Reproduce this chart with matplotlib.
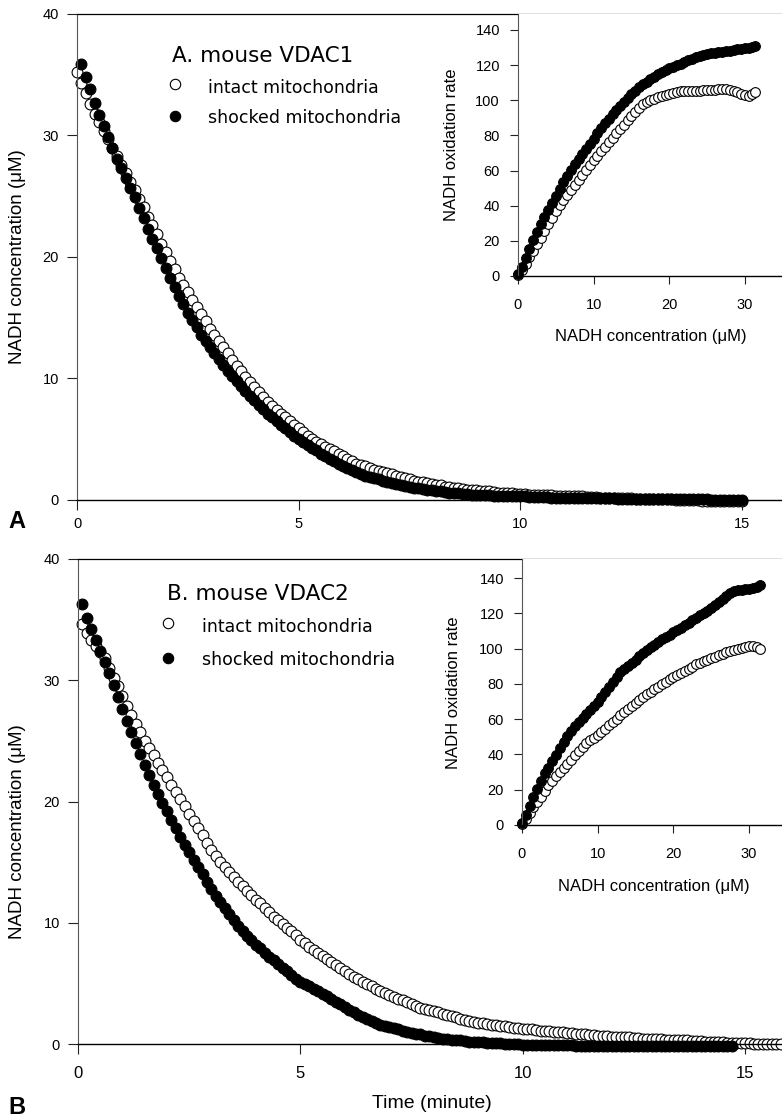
import numpy as np
import matplotlib
matplotlib.use('Agg')
import matplotlib.pyplot as plt
from matplotlib import font_manager

# ---------------- data ----------------
# Panel A main: NADH concentration (uM) vs time (min), sampled every 0.1 min
A_intact_t0 = 0.0
A_intact = [35.2, 34.3, 33.5, 32.6, 31.8, 31.1, 30.4, 29.7, 29.0, 28.3,
            27.6, 26.9, 26.2, 25.5, 24.8, 24.1, 23.3, 22.6, 21.9, 21.1,
            20.4, 19.7, 19.0, 18.3, 17.7, 17.1, 16.5, 15.9, 15.3, 14.7,
            14.1, 13.6, 13.1, 12.6, 12.1, 11.5, 11.0, 10.6, 10.1, 9.7,
            9.3, 8.9, 8.5, 8.1, 7.7, 7.4, 7.1, 6.8, 6.5, 6.2,
            5.9, 5.6, 5.3, 5.0, 4.8, 4.6, 4.4, 4.2, 4.0, 3.8,
            3.6, 3.4, 3.2, 3.0, 2.9, 2.8, 2.6, 2.5, 2.4, 2.3,
            2.2, 2.1, 2.0, 1.9, 1.8, 1.7, 1.6, 1.5, 1.45, 1.4,
            1.3, 1.25, 1.2, 1.1, 1.05, 1.0, 0.95, 0.9, 0.85, 0.8,
            0.8, 0.75, 0.7, 0.7, 0.65, 0.6, 0.6, 0.55, 0.55, 0.5,
            0.5, 0.5, 0.45, 0.45, 0.45, 0.4, 0.4, 0.4, 0.35, 0.35,
            0.35, 0.3, 0.3, 0.3, 0.3, 0.25, 0.25, 0.25, 0.2, 0.2,
            0.2, 0.2, 0.15, 0.15, 0.15, 0.15, 0.1, 0.1, 0.1, 0.1,
            0.1, 0.05, 0.05, 0.05, 0.05, 0.0, 0.0, 0.0, 0.0, 0.0,
            0.0, -0.05, -0.05, -0.05, -0.1, -0.1, -0.1, -0.1, -0.1, -0.1,
            -0.1]
A_shocked_t0 = 0.1
A_shocked = [35.9, 34.8, 33.8, 32.7, 31.7, 30.8, 29.9, 29.0, 28.1, 27.3,
             26.5, 25.7, 24.9, 24.0, 23.2, 22.3, 21.5, 20.7, 19.9, 19.1,
             18.3, 17.5, 16.8, 16.1, 15.4, 14.8, 14.2, 13.6, 13.1, 12.6,
             12.1, 11.6, 11.1, 10.6, 10.2, 9.8, 9.4, 9.0, 8.6, 8.2,
             7.8, 7.5, 7.1, 6.8, 6.5, 6.2, 5.9, 5.6, 5.3, 5.0,
             4.8, 4.5, 4.3, 4.1, 3.8, 3.6, 3.4, 3.2, 3.0, 2.8,
             2.65, 2.5, 2.3, 2.15, 2.0, 1.9, 1.8, 1.7, 1.6, 1.5,
             1.4, 1.3, 1.2, 1.15, 1.1, 1.0, 0.95, 0.9, 0.85, 0.8,
             0.75, 0.7, 0.65, 0.6, 0.6, 0.55, 0.5, 0.5, 0.45, 0.45,
             0.4, 0.4, 0.4, 0.35, 0.35, 0.35, 0.3, 0.3, 0.3, 0.3,
             0.3, 0.25, 0.25, 0.25, 0.25, 0.25, 0.2, 0.2, 0.2, 0.2,
             0.2, 0.2, 0.2, 0.15, 0.15, 0.15, 0.15, 0.15, 0.15, 0.15,
             0.15, 0.1, 0.1, 0.1, 0.1, 0.1, 0.1, 0.1, 0.1, 0.1,
             0.1, 0.1, 0.05, 0.05, 0.05, 0.05, 0.05, 0.05, 0.05, 0.05,
             0.05, 0.05, 0.0, 0.0, 0.0, 0.0, 0.0, 0.0, 0.0, 0.0]

# Panel B main
B_intact_t0 = 0.1
B_intact = [34.6, 33.9, 33.3, 32.8, 32.3, 31.8, 31.0, 30.2, 29.5, 28.7,
            27.9, 27.1, 26.4, 25.7, 25.0, 24.4, 23.8, 23.2, 22.6, 22.0,
            21.4, 20.8, 20.2, 19.6, 19.0, 18.4, 17.8, 17.2, 16.6, 16.0,
            15.5, 15.0, 14.6, 14.2, 13.8, 13.4, 13.0, 12.6, 12.3, 11.9,
            11.6, 11.2, 10.9, 10.5, 10.2, 9.9, 9.6, 9.3, 9.0, 8.6,
            8.3, 8.0, 7.75, 7.5, 7.25, 7.0, 6.75, 6.5, 6.25, 6.0,
            5.8, 5.55, 5.35, 5.15, 4.95, 4.75, 4.55, 4.4, 4.2, 4.05,
            3.9, 3.75, 3.6, 3.45, 3.3, 3.15, 3.0, 2.9, 2.8, 2.7,
            2.6, 2.5, 2.4, 2.3, 2.2, 2.1, 2.0, 1.9, 1.8, 1.75,
            1.7, 1.65, 1.6, 1.55, 1.5, 1.45, 1.4, 1.35, 1.3, 1.25,
            1.2, 1.2, 1.15, 1.1, 1.05, 1.05, 1.0, 0.95, 0.95, 0.9,
            0.9, 0.85, 0.8, 0.8, 0.75, 0.75, 0.7, 0.7, 0.65, 0.6,
            0.6, 0.6, 0.55, 0.55, 0.5, 0.5, 0.45, 0.45, 0.4, 0.4,
            0.4, 0.35, 0.35, 0.35, 0.3, 0.3, 0.3, 0.25, 0.25, 0.25,
            0.2, 0.2, 0.2, 0.15, 0.15, 0.1, 0.1, 0.1, 0.05, 0.05,
            0.05, 0.0, 0.0, 0.0, 0.0, 0.0, 0.0, 0.0]
B_shocked_t0 = 0.1
B_shocked = [36.3, 35.1, 34.2, 33.3, 32.4, 31.5, 30.6, 29.6, 28.6, 27.6,
             26.6, 25.7, 24.8, 23.9, 23.0, 22.2, 21.4, 20.6, 19.9, 19.2,
             18.5, 17.8, 17.1, 16.4, 15.8, 15.2, 14.6, 14.0, 13.4, 12.8,
             12.2, 11.7, 11.2, 10.7, 10.2, 9.7, 9.3, 8.9, 8.6, 8.2,
             7.9, 7.5, 7.2, 6.9, 6.6, 6.3, 6.0, 5.7, 5.4, 5.15,
             4.95, 4.75, 4.55, 4.35, 4.15, 3.95, 3.75, 3.5, 3.3, 3.05,
             2.8, 2.6, 2.4, 2.2, 2.05, 1.9, 1.75, 1.6, 1.5, 1.4,
             1.3, 1.2, 1.1, 1.0, 0.9, 0.85, 0.8, 0.7, 0.65, 0.6,
             0.5, 0.45, 0.4, 0.35, 0.3, 0.3, 0.25, 0.2, 0.2, 0.15,
             0.15, 0.1, 0.1, 0.05, 0.05, 0.0, 0.0, 0.0, 0.0, -0.05,
             -0.05, -0.05, -0.1, -0.1, -0.1, -0.1, -0.1, -0.1, -0.1, -0.1,
             -0.1, -0.15, -0.15, -0.15, -0.15, -0.15, -0.15, -0.15, -0.15, -0.15,
             -0.15, -0.15, -0.15, -0.15, -0.15, -0.15, -0.15, -0.15, -0.15, -0.15,
             -0.15, -0.15, -0.15, -0.15, -0.15, -0.15, -0.15, -0.15, -0.15, -0.15,
             -0.15, -0.15, -0.15, -0.15, -0.15, -0.15, -0.15]
DT = 0.1

# Insets: NADH oxidation rate vs NADH concentration
A_ins_conc = [0.0, 0.5, 1.0, 1.5, 2.0, 2.5, 3.0, 3.5, 4.0, 4.5,
              5.0, 5.5, 6.0, 6.5, 7.0, 7.5, 8.0, 8.5, 9.0, 9.5,
              10.0, 10.5, 11.0, 11.5, 12.0, 12.5, 13.0, 13.5, 14.0, 14.5,
              15.0, 15.5, 16.0, 16.5, 17.0, 17.5, 18.0, 18.5, 19.0, 19.5,
              20.0, 20.5, 21.0, 21.5, 22.0, 22.5, 23.0, 23.5, 24.0, 24.5,
              25.0, 25.5, 26.0, 26.5, 27.0, 27.5, 28.0, 28.5, 29.0, 29.5,
              30.0, 30.5, 31.0, 31.3]
A_ins_shocked = [1, 5, 10, 15.5, 20.5, 25, 29.5, 33.5, 37.5, 41.5,
                 45.5, 49.5, 53.5, 57, 60.3, 63.5, 66.5, 69.3, 72.2, 75,
                 78.2, 81.3, 84.2, 87, 89.6, 92, 94.5, 96.8, 99, 101.2,
                 103.3, 105.4, 107.4, 109, 110.5, 112, 113.4, 114.8, 116, 117.1,
                 118.1, 119.1, 120, 120.9, 121.8, 122.7, 123.6, 124.5, 125.3, 125.9,
                 126.4, 126.8, 127.1, 127.4, 127.7, 128, 128.3, 128.6, 128.9, 129.2,
                 129.5, 129.9, 130.3, 130.8]
A_ins_intact = [0.5, 3.2, 7.0, 10.7, 14.4, 18.2, 21.9, 25.6, 29.4, 33.1,
                36.9, 40.2, 43.3, 46.2, 49.1, 51.8, 54.6, 57.6, 60.5, 63.3,
                66.0, 68.5, 71.0, 73.6, 76.2, 78.7, 81.2, 83.6, 86.0, 88.5,
                91.0, 93.5, 95.8, 97.6, 99.0, 100.1, 100.9, 101.6, 102.3, 103.0,
                103.7, 104.3, 104.9, 105.1, 105.2, 105.3, 105.3, 105.4, 105.5, 105.6,
                105.8, 106.0, 106.1, 106.2, 106.2, 106.2, 105.8, 105.2, 104.5, 103.7,
                102.8, 102.2, 103.5, 104.9]
B_ins_conc = [0.0, 0.5, 1.0, 1.5, 2.0, 2.5, 3.0, 3.5, 4.0, 4.5,
              5.0, 5.5, 6.0, 6.5, 7.0, 7.5, 8.0, 8.5, 9.0, 9.5,
              10.0, 10.5, 11.0, 11.5, 12.0, 12.5, 13.0, 13.5, 14.0, 14.5,
              15.0, 15.5, 16.0, 16.5, 17.0, 17.5, 18.0, 18.5, 19.0, 19.5,
              20.0, 20.5, 21.0, 21.5, 22.0, 22.5, 23.0, 23.5, 24.0, 24.5,
              25.0, 25.5, 26.0, 26.5, 27.0, 27.5, 28.0, 28.5, 29.0, 29.5,
              30.0, 30.5, 31.0, 31.5]
B_ins_shocked = [1, 5.5, 11, 16, 20.5, 25, 29.3, 32.5, 36, 39.5,
                 43.5, 47.2, 50.5, 53.5, 56, 58.4, 60.7, 62.9, 65, 67.4,
                 70, 72.6, 75.4, 78.2, 81, 84, 86.5, 88.6, 90.4, 92,
                 93.8, 95.7, 97.5, 99.2, 100.8, 102.3, 103.8, 105.2, 106.6, 107.9,
                 109.2, 110.5, 111.8, 113.2, 114.6, 116, 117.4, 118.8, 120.2, 121.6,
                 123, 124.6, 126.4, 128.2, 130, 131.5, 132.5, 133, 133.3, 133.6,
                 134, 134.6, 135.2, 136]
B_ins_intact = [0.5, 3.5, 7, 10, 13, 16, 19.5, 22.5, 25.2, 27.8,
                30.2, 32.5, 34.8, 37, 39.6, 42.2, 44.4, 46.4, 48, 49.6,
                51.2, 52.8, 54.6, 56.5, 58.4, 60.3, 62.2, 64.1, 65.9, 67.6,
                69.3, 70.9, 72.5, 74.1, 75.6, 77, 78.4, 79.8, 81.2, 82.6,
                83.8, 85, 86.2, 87.4, 88.6, 89.8, 91, 92.1, 93, 93.8,
                94.6, 95.4, 96.2, 97, 97.8, 98.6, 99.3, 99.9, 100.4, 100.9,
                101.3, 101.4, 101, 99.8]

main_xticks = [0, 5, 10, 15]
main_yticks = [0, 10, 20, 30, 40]
ins_xticks = [0, 10, 20, 30]
ins_yticks = [0, 20, 40, 60, 80, 100, 120, 140]

# ---------------- layout ----------------
W, H = 782, 1119
fig = plt.figure(figsize=(W / 100, H / 100), dpi=100)

try:
    font_manager.findfont('Liberation Sans Narrow', fallback_to_default=False)
    NARROW = 'Liberation Sans Narrow'
except Exception:
    NARROW = 'Liberation Sans'
ARIAL = 'Liberation Sans'
LEG = 'DejaVu Sans'


def rect(l, t, r, b):
    return [l / W, 1 - b / H, (r - l) / W, (b - t) / H]


def fx(x):
    return x / W


def fy(y):
    return 1 - y / H


def times(t0, vals):
    return t0 + DT * np.arange(len(vals))


def style_main(ax, xmax, xfont, xsize, xpad):
    ax.set_xlim(0, xmax)
    ax.set_ylim(0, 40)
    ax.set_xticks(main_xticks)
    ax.set_yticks(main_yticks)
    ax.spines['right'].set_visible(False)
    ax.spines['left'].set_color('#555555')
    ax.spines['left'].set_linewidth(0.8)
    ax.spines['top'].set_linewidth(0.9)
    ax.spines['bottom'].set_linewidth(1.0)
    ax.tick_params(direction='out', length=7, width=0.8, color='#222222')
    ax.tick_params(axis='y', pad=6)
    ax.tick_params(axis='x', pad=xpad)
    for lab in ax.get_yticklabels():
        lab.set_fontfamily(ARIAL)
        lab.set_fontsize(10.5)
    for lab in ax.get_xticklabels():
        lab.set_fontfamily(xfont)
        lab.set_fontsize(xsize)


def style_inset(ax, xmax, ymax):
    ax.set_xlim(0, xmax)
    ax.set_ylim(0, ymax)
    ax.set_xticks(ins_xticks)
    ax.set_yticks(ins_yticks)
    ax.spines['right'].set_visible(False)
    ax.spines['top'].set_visible(False)
    ax.spines['left'].set_color('#555555')
    ax.spines['left'].set_linewidth(0.8)
    ax.spines['bottom'].set_linewidth(1.0)
    ax.tick_params(direction='out', length=6, width=0.8, color='#222222')
    ax.tick_params(axis='y', pad=7)
    ax.tick_params(axis='x', pad=10)
    for lab in ax.get_xticklabels() + ax.get_yticklabels():
        lab.set_fontfamily(ARIAL)
        lab.set_fontsize(10.5)


open_kw = dict(linestyle='none', marker='o', ms=7.8, mfc='white', mec='black', mew=0.8, clip_on=False)
fill_kw = dict(linestyle='none', marker='o', ms=7.8, mfc='black', mec='black', mew=0.8, clip_on=False)
open_ki = dict(linestyle='none', marker='o', ms=7.0, mfc='white', mec='black', mew=0.8, clip_on=False)
fill_ki = dict(linestyle='none', marker='o', ms=7.0, mfc='black', mec='black', mew=0.8, clip_on=False)

# ---- Panel A ----
axA = fig.add_axes(rect(77, 14, 782, 500))
axA.plot(times(A_intact_t0, A_intact), A_intact, **open_kw)
axA.plot(times(A_shocked_t0, A_shocked), A_shocked, **fill_kw)
style_main(axA, 15.9, ARIAL, 10.5, 5)

# legend A
fig.text(fx(172), fy(62), 'A. mouse VDAC1', family=LEG, fontsize=15.5, va='baseline', ha='left')
fig.lines.append(plt.Line2D([fx(175)], [fy(84)], transform=fig.transFigure, marker='o', ms=7.5,
                            mfc='white', mec='black', mew=0.8, linestyle='none'))
fig.lines.append(plt.Line2D([fx(175)], [fy(116)], transform=fig.transFigure, marker='o', ms=7.5,
                            mfc='black', mec='black', mew=0.8, linestyle='none'))
fig.text(fx(208), fy(93), 'intact mitochondria', family=LEG, fontsize=12.5, va='baseline', ha='left')
fig.text(fx(208), fy(123), 'shocked mitochondria', family=LEG, fontsize=12.5, va='baseline', ha='left')

insA = fig.add_axes(rect(518, 14, 782, 276))
insA.plot(A_ins_conc, A_ins_intact, **open_ki)
insA.plot(A_ins_conc, A_ins_shocked, **fill_ki)
style_inset(insA, 34.9, 149.1)

# ---- Panel B ----
axB = fig.add_axes(rect(78, 559, 782, 1044))
axB.plot(times(B_intact_t0, B_intact), B_intact, **open_kw)
axB.plot(times(B_shocked_t0, B_shocked), B_shocked, **fill_kw)
style_main(axB, 15.83, NARROW, 12, 9)

fig.text(fx(167), fy(600), 'B. mouse VDAC2', family=LEG, fontsize=15.5, va='baseline', ha='left')
fig.lines.append(plt.Line2D([fx(168)], [fy(623)], transform=fig.transFigure, marker='o', ms=7.5,
                            mfc='white', mec='black', mew=0.8, linestyle='none'))
fig.lines.append(plt.Line2D([fx(168)], [fy(658)], transform=fig.transFigure, marker='o', ms=7.5,
                            mfc='black', mec='black', mew=0.8, linestyle='none'))
fig.text(fx(202), fy(632), 'intact mitochondria', family=LEG, fontsize=12.5, va='baseline', ha='left')
fig.text(fx(202), fy(665), 'shocked mitochondria', family=LEG, fontsize=12.5, va='baseline', ha='left')

insB = fig.add_axes(rect(522, 559, 782, 825))
insB.plot(B_ins_conc, B_ins_intact, **open_ki)
insB.plot(B_ins_conc, B_ins_shocked, **fill_ki)
style_inset(insB, 34.35, 150.8)

# ---- axis titles and panel letters ----
fig.text(fx(18), fy(257), 'NADH concentration (\u03bcM)', family=ARIAL, fontsize=13.5,
         rotation=90, ha='center', va='center')
fig.text(fx(18), fy(832), 'NADH concentration (\u03bcM)', family=ARIAL, fontsize=13.5,
         rotation=90, ha='center', va='center')
fig.text(fx(452), fy(145), 'NADH oxidation rate', family=ARIAL, fontsize=12,
         rotation=90, ha='center', va='center')
fig.text(fx(454), fy(693), 'NADH oxidation rate', family=ARIAL, fontsize=12,
         rotation=90, ha='center', va='center')
fig.text(fx(651), fy(337), 'NADH concentration (\u03bcM)', family=ARIAL, fontsize=12,
         ha='center', va='center')
fig.text(fx(654), fy(886), 'NADH concentration (\u03bcM)', family=ARIAL, fontsize=12,
         ha='center', va='center')
fig.text(fx(432), fy(1104), 'Time (minute)', family=NARROW, fontsize=14,
         ha='center', va='center')
fig.text(fx(17), fy(522), 'A', family=ARIAL, fontsize=17, fontweight='bold',
         ha='center', va='center')
fig.text(fx(17), fy(1108), 'B', family=ARIAL, fontsize=17, fontweight='bold',
         ha='center', va='center')

fig.savefig('out.png', dpi=100)
